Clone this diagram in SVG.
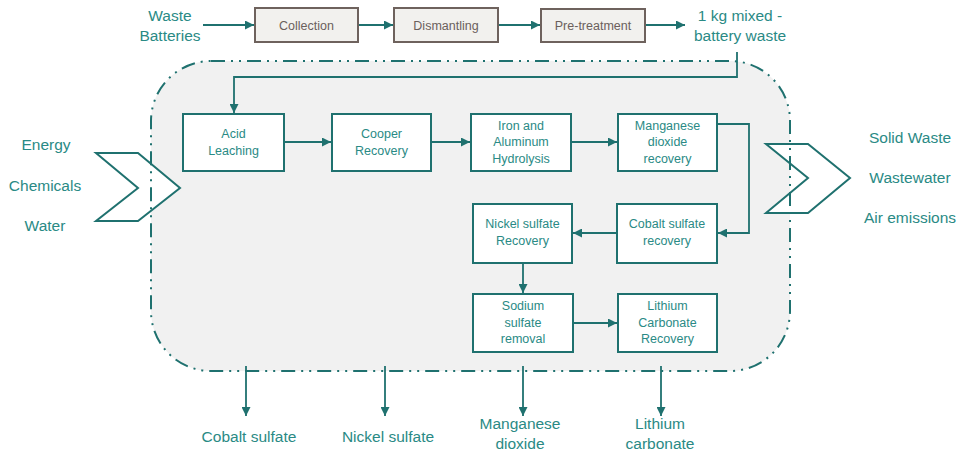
<svg xmlns="http://www.w3.org/2000/svg" width="958" height="452" viewBox="0 0 958 452">
<style>
.lbl{font-family:"Liberation Sans",Arial,sans-serif;font-size:15.5px;fill:#2a8a85;text-anchor:middle}
.bt{font-family:"Liberation Sans",Arial,sans-serif;font-size:12.5px;fill:#2a8a85;text-anchor:middle}
.gt{font-family:"Liberation Sans",Arial,sans-serif;font-size:12.5px;fill:#6b605c;text-anchor:middle}
.box{fill:#ffffff;stroke:#1f716f;stroke-width:2}
.gbox{fill:#f2f1ee;stroke:#6e625d;stroke-width:2}
.ln{fill:none;stroke:#1f716f;stroke-width:1.8}
.chev{fill:#ffffff;stroke:#1f716f;stroke-width:2;stroke-linejoin:miter}
</style>
<defs>
<marker id="ah" viewBox="0 0 10 10" refX="10" refY="5" markerWidth="5" markerHeight="5" orient="auto" markerUnits="strokeWidth">
<path d="M0,0 L10,5 L0,10 z" fill="#1f716f"/>
</marker>
</defs>
<rect id="system-fill" x="151" y="61" width="639" height="310" rx="60" ry="60" fill="#f1f1f1" stroke="none"/>

<g id="inputs">
<polygon class="chev" points="96,153 138,153 180,188 138,221 96,221 138,188"/>
<text class="lbl" x="46" y="150">Energy</text>
<text class="lbl" x="45" y="191">Chemicals</text>
<text class="lbl" x="45" y="231">Water</text>
</g>
<g id="outputs">
<polygon class="chev" points="766,144 808,144 850,178 808,213 766,213 808,178"/>
<text class="lbl" x="910" y="143">Solid Waste</text>
<text class="lbl" x="910" y="183">Wastewater</text>
<text class="lbl" x="910" y="223">Air emissions</text>
</g>

<rect id="system" x="151" y="61" width="639" height="310" rx="60" ry="60" fill="none" stroke="#1f716f" stroke-width="2" stroke-dasharray="14 6 2 6 2 6"/>

<g id="connectors">
<line class="ln" x1="203" y1="25" x2="254" y2="25" marker-end="url(#ah)"/>
<line class="ln" x1="359" y1="25" x2="393" y2="25" marker-end="url(#ah)"/>
<line class="ln" x1="498" y1="25" x2="540" y2="25" marker-end="url(#ah)"/>
<line class="ln" x1="645" y1="25" x2="685" y2="25" marker-end="url(#ah)"/>
<polyline class="ln" points="737,52 737,77 234,77 234,113" marker-end="url(#ah)"/>
<line class="ln" x1="284" y1="142" x2="331" y2="142" marker-end="url(#ah)"/>
<line class="ln" x1="431" y1="142" x2="470" y2="142" marker-end="url(#ah)"/>
<line class="ln" x1="571" y1="142" x2="617" y2="142" marker-end="url(#ah)"/>
<polyline class="ln" points="717,124 749,124 749,233 718,233" marker-end="url(#ah)"/>
<line class="ln" x1="617" y1="233" x2="573" y2="233" marker-end="url(#ah)"/>
<line class="ln" x1="523" y1="263" x2="523" y2="293" marker-end="url(#ah)"/>
<line class="ln" x1="573" y1="323" x2="617" y2="323" marker-end="url(#ah)"/>
<line class="ln" x1="246" y1="366" x2="246" y2="416" marker-end="url(#ah)"/>
<line class="ln" x1="385" y1="366" x2="385" y2="416" marker-end="url(#ah)"/>
<line class="ln" x1="523" y1="366" x2="523" y2="416" marker-end="url(#ah)"/>
<line class="ln" x1="661" y1="366" x2="661" y2="416" marker-end="url(#ah)"/>
</g>

<g id="waste-batteries"><text class="lbl" x="170" y="21">Waste</text><text class="lbl" x="170" y="41">Batteries</text></g>
<g id="collection"><rect class="gbox" x="255" y="8" width="103" height="34"/><text class="gt" x="306.5" y="29.5">Collection</text></g>
<g id="dismantling"><rect class="gbox" x="394" y="8" width="104" height="34"/><text class="gt" x="446" y="29.5">Dismantling</text></g>
<g id="pretreatment"><rect class="gbox" x="541" y="9" width="104" height="33"/><text class="gt" x="593" y="29.5">Pre-treatment</text></g>
<g id="mixed-waste"><text class="lbl" x="740" y="21">1 kg mixed -</text><text class="lbl" x="740" y="41">battery waste</text></g>

<g id="acid-leaching"><rect class="box" x="183" y="114" width="101" height="57"/><text class="bt" x="233.5" y="137.5">Acid</text><text class="bt" x="233.5" y="154.5">Leaching</text></g>
<g id="cooper-recovery"><rect class="box" x="332" y="114" width="99" height="57"/><text class="bt" x="381.5" y="137.5">Cooper</text><text class="bt" x="381.5" y="154.5">Recovery</text></g>
<g id="iron-aluminum"><rect class="box" x="471" y="114" width="100" height="57"/><text class="bt" x="521" y="129.5">Iron and</text><text class="bt" x="521" y="146">Aluminum</text><text class="bt" x="521" y="162.5">Hydrolysis</text></g>
<g id="manganese-recovery"><rect class="box" x="618" y="114" width="99" height="57"/><text class="bt" x="667.5" y="129.5">Manganese</text><text class="bt" x="667.5" y="146">dioxide</text><text class="bt" x="667.5" y="162.5">recovery</text></g>
<g id="cobalt-recovery"><rect class="box" x="617" y="204" width="100" height="59"/><text class="bt" x="667" y="228">Cobalt sulfate</text><text class="bt" x="667" y="245">recovery</text></g>
<g id="nickel-recovery"><rect class="box" x="473" y="204" width="99" height="59"/><text class="bt" x="522.5" y="228">Nickel sulfate</text><text class="bt" x="522.5" y="245">Recovery</text></g>
<g id="sodium-removal"><rect class="box" x="473" y="294" width="100" height="58"/><text class="bt" x="523" y="310">Sodium</text><text class="bt" x="523" y="327">sulfate</text><text class="bt" x="523" y="343">removal</text></g>
<g id="lithium-recovery"><rect class="box" x="618" y="294" width="99" height="58"/><text class="bt" x="667.5" y="310">Lithium</text><text class="bt" x="667.5" y="327">Carbonate</text><text class="bt" x="667.5" y="343">Recovery</text></g>

<g id="cobalt-sulfate"><text class="lbl" x="249" y="442">Cobalt sulfate</text></g>
<g id="nickel-sulfate"><text class="lbl" x="388" y="442">Nickel sulfate</text></g>
<g id="manganese-dioxide"><text class="lbl" x="520" y="429">Manganese</text><text class="lbl" x="520" y="449">dioxide</text></g>
<g id="lithium-carbonate"><text class="lbl" x="660" y="429">Lithium</text><text class="lbl" x="660" y="449">carbonate</text></g>
</svg>
